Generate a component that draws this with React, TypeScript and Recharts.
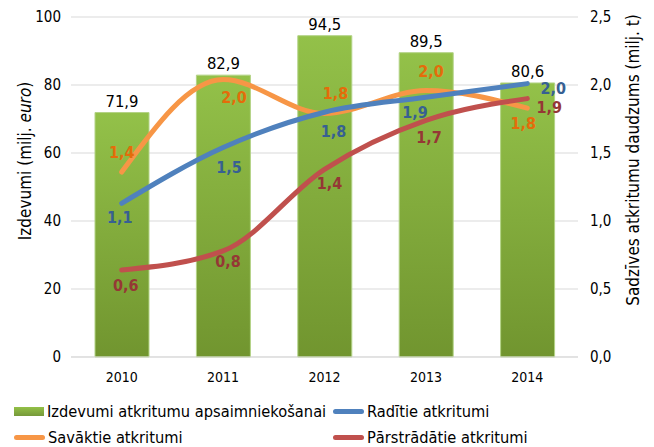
import React from 'react';
import {
    ComposedChart, Bar, Line, XAxis, YAxis, CartesianGrid, Legend, LabelList, Label
} from 'recharts';

// values
const years = ['2010', '2011', '2012', '2013', '2014'];
const spending = [71.9, 82.9, 94.5, 89.5, 80.6];      // milj. euro
const collected = [1.36, 2.04, 1.79, 1.96, 1.83];     // Savāktie, milj. t
const generated = [1.13, 1.54, 1.8, 1.91, 2.01];      // Radītie, milj. t
const recycled = [0.64, 0.78, 1.38, 1.74, 1.9];       // Pārstrādātie, milj. t

const leftTicks = [0, 20, 40, 60, 80, 100];
const rightTicks = [0, 0.5, 1, 1.5, 2, 2.5];

const data = years.map((year, i) => ({
    year,
    spending: spending[i],
    collected: collected[i],
    generated: generated[i],
    recycled: recycled[i],
}));

const FONT = "Tahoma, 'DejaVu Sans Condensed', 'DejaVu Sans', sans-serif";
const comma = (v: number, d = 1) => v.toFixed(d).replace('.', ',');

// where each line label sits relative to its point
const collectedShift = [[0, -20], [11, 18], [11, -20], [5, -19], [-4, 15]];
const generatedShift = [[-2, 14], [6, 20], [9, 19], [-11, 15], [26, 5]];
const recycledShift = [[4, 16], [5, 11], [5, 14], [3, 17], [22, 9]];

function pointLabel(color: string, shift: number[][]) {
    return (p: any) => {
        const [dx, dy] = shift[p.index] || [0, 0];
        return (
            <text x={Number(p.x) + dx} y={Number(p.y) + dy} fill={color} textAnchor="middle"
                dominantBaseline="central" fontSize={16} fontWeight="bold" fontFamily={FONT}>
                {comma(Number(p.value))}
            </text>
        );
    };
}

function LegendBox() {
    const item = (x: number, y: number, swatch: React.ReactNode, text: string) => (
        <div style={{ position: 'absolute', left: x, top: y, display: 'flex', alignItems: 'center', whiteSpace: 'nowrap' }}>
            {swatch}
            <span style={{ marginLeft: 3, fontSize: 16.3, color: '#000', fontFamily: FONT }}>{text}</span>
        </div>
    );
    const lineSwatch = (c: string) => <div style={{ width: 31, height: 5, borderRadius: 3, background: c }} />;
    return (
        <div style={{ position: 'relative', width: 654, height: 60 }}>
            {item(14, 15, <div style={{ width: 30, height: 9, background: 'linear-gradient(#93c047, #76993a)' }} />,
                'Izdevumi atkritumu apsaimniekošanai')}
            {item(333, 15, lineSwatch('#4f81bd'), 'Radītie atkritumi')}
            {item(14, 41, lineSwatch('#f79646'), 'Savāktie atkritumi')}
            {item(333, 41, lineSwatch('#c0504d'), 'Pārstrādātie atkritumi')}
        </div>
    );
}

export default function App() {
    return (
        <div style={{ position: 'absolute', left: 0, top: 0, background: '#fff' }}>
            <ComposedChart width={654} height={447} data={data}
                margin={{ top: 17, right: 0, left: 0, bottom: 0 }}>
                <defs>
                    <linearGradient id="barGreen" x1="0" y1="0" x2="0" y2="1">
                        <stop offset="0%" stopColor="#93c149" />
                        <stop offset="100%" stopColor="#71952f" />
                    </linearGradient>
                </defs>
                <CartesianGrid yAxisId="left" vertical={false} stroke="#d9d9d9" />
                <XAxis dataKey="year" axisLine={{ stroke: '#d9d9d9' }} tickLine={false} height={30}
                    tickMargin={9} tick={{ fill: '#000', fontSize: 14, fontFamily: FONT }} />
                <YAxis yAxisId="left" domain={[0, 100]} ticks={leftTicks} width={71} axisLine={false}
                    tickLine={false} tickMargin={4} tick={{ fill: '#000', fontSize: 15, fontFamily: FONT }}>
                    <Label content={() => (
                        <text transform="translate(25,161) rotate(-90)" textAnchor="middle"
                            dominantBaseline="central" fontSize={17} fontFamily={FONT} fill="#000">
                            Izdevumi (milj. <tspan fontStyle="italic">euro</tspan>)
                        </text>
                    )} />
                </YAxis>
                <YAxis yAxisId="right" orientation="right" domain={[0, 2.5]} ticks={rightTicks} width={76}
                    axisLine={false} tickLine={false} tickMargin={6} tickFormatter={(v: number) => comma(v)}
                    tick={{ fill: '#000', fontSize: 15, fontFamily: FONT, textAnchor: 'start' }}>
                    <Label content={() => (
                        <text transform="translate(633,160) rotate(-90)" textAnchor="middle"
                            dominantBaseline="central" fontSize={17} fontFamily={FONT} fill="#000">
                            Sadzīves atkritumu daudzums (milj. t)
                        </text>
                    )} />
                </YAxis>
                <Legend verticalAlign="bottom" height={60} content={() => <LegendBox />}
                    wrapperStyle={{ left: 0, bottom: 0, width: 654 }} />
                <Bar yAxisId="left" dataKey="spending" fill="url(#barGreen)" stroke="#b3d386" strokeWidth={1}
                    barSize={54} isAnimationActive={false}>
                    <LabelList dataKey="spending" position="top" offset={6}
                        formatter={(v: any) => comma(Number(v))}
                        style={{ fill: '#000', fontSize: 16.5, fontFamily: FONT }} />
                </Bar>
                <Line yAxisId="right" type="monotone" dataKey="collected" stroke="#f79646" strokeWidth={5}
                    strokeLinecap="round" dot={false} isAnimationActive={false}>
                    <LabelList dataKey="collected" content={pointLabel('#e46c0a', collectedShift)} />
                </Line>
                <Line yAxisId="right" type="monotone" dataKey="generated" stroke="#4f81bd" strokeWidth={5}
                    strokeLinecap="round" dot={false} isAnimationActive={false}>
                    <LabelList dataKey="generated" content={pointLabel('#376092', generatedShift)} />
                </Line>
                <Line yAxisId="right" type="monotone" dataKey="recycled" stroke="#c0504d" strokeWidth={5}
                    strokeLinecap="round" dot={false} isAnimationActive={false}>
                    <LabelList dataKey="recycled" content={pointLabel('#953735', recycledShift)} />
                </Line>
            </ComposedChart>
        </div>
    );
}
